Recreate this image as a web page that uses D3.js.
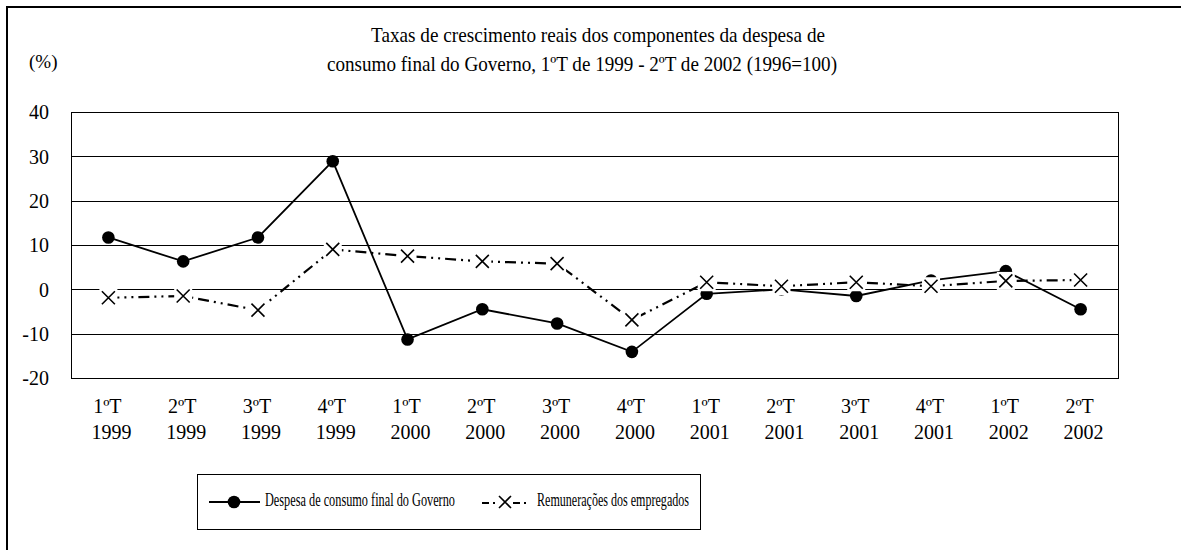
<!DOCTYPE html>
<html>
<head>
<meta charset="utf-8">
<script src="https://cdn.jsdelivr.net/npm/d3@7"></script>
<style>
  body { margin: 0; background: #fff; }
  svg { display: block; }
  text { font-family: "Liberation Serif", "Times New Roman", serif; fill: #000; }
</style>
</head>
<body>
<script>
// data
const quarters = ["1ºT", "2ºT", "3ºT", "4ºT", "1ºT", "2ºT", "3ºT", "4ºT", "1ºT", "2ºT", "3ºT", "4ºT", "1ºT", "2ºT"];
const years = ["1999", "1999", "1999", "1999", "2000", "2000", "2000", "2000", "2001", "2001", "2001", "2001", "2002", "2002"];
const despesa = [11.7, 6.3, 11.7, 28.9, -11.3, -4.5, -7.7, -14.1, -1.0, 0.0, -1.5, 2.0, 4.1, -4.5];
const remuneracoes = [-1.9, -1.5, -4.7, 9.0, 7.5, 6.3, 5.8, -6.9, 1.6, 0.7, 1.6, 0.7, 1.9, 2.1];
const yTicks = [-20, -10, 0, 10, 20, 30, 40];
const titleLines = ["Taxas de crescimento reais dos componentes da despesa de",
                    "consumo final do Governo, 1ºT de 1999 - 2ºT de 2002 (1996=100)"];
const seriesNames = ["Despesa de consumo final do Governo", "Remunerações dos empregados"];

const W = 1181, H = 550;
const margin = {top: 112, right: 63, bottom: 172, left: 71};

const svg = d3.select("body").append("svg")
    .attr("width", W)
    .attr("height", H);

// outer frame (only left and top edges are inside the picture)
svg.append("path")
    .attr("d", `M7,${H} L7,7 L${W},7`)
    .attr("fill", "none")
    .attr("stroke", "#000")
    .attr("stroke-width", 2);

// title
svg.append("text")
    .attr("x", 371).attr("y", 42)
    .attr("font-size", 21)
    .attr("textLength", 454)
    .attr("lengthAdjust", "spacingAndGlyphs")
    .text(titleLines[0]);
svg.append("text")
    .attr("x", 327).attr("y", 71)
    .attr("font-size", 21)
    .attr("textLength", 510)
    .attr("lengthAdjust", "spacingAndGlyphs")
    .text(titleLines[1]);

svg.append("text")
    .attr("x", 29).attr("y", 68)
    .attr("font-size", 19)
    .text("(%)");

let x = d3.scaleBand(d3.range(quarters.length), [margin.left, W - margin.right]);
let y = d3.scaleLinear([-20, 40], [H - margin.bottom, margin.top]);

// grid lines
svg.append("g")
    .attr("stroke", "#000")
    .attr("stroke-width", 1)
    .selectAll("line")
    .data(yTicks)
    .join("line")
      .attr("x1", margin.left)
      .attr("x2", W - margin.right)
      .attr("y1", d => Math.round(y(d)) + 0.5)
      .attr("y2", d => Math.round(y(d)) + 0.5);

svg.append("rect")
    .attr("x", margin.left + 0.5)
    .attr("y", Math.round(y(40)) + 0.5)
    .attr("width", W - margin.right - margin.left)
    .attr("height", Math.round(y(-20)) - Math.round(y(40)))
    .attr("fill", "none")
    .attr("stroke", "#000");

// y axis
let yAxis = svg.append("g")
    .attr("transform", `translate(${margin.left - 20},0)`)
    .call(d3.axisLeft(y).tickValues(yTicks).tickSize(0).tickPadding(2).tickFormat(d => String(d)));
yAxis.attr("font-family", null).attr("font-size", null);
yAxis.select(".domain").remove();
yAxis.selectAll("text")
    .attr("font-size", 20)
    .attr("dy", "0.34em");

// x labels, two lines
let xLab = svg.append("g")
    .selectAll("text")
    .data(quarters)
    .join("text")
      .attr("text-anchor", "middle")
      .attr("font-size", 20);
xLab.append("tspan")
    .attr("x", (d, i) => x(i) + x.bandwidth() / 2 - 1)
    .attr("y", 413)
    .text(d => d);
xLab.append("tspan")
    .attr("x", (d, i) => x(i) + x.bandwidth() / 2 + 3)
    .attr("y", 439)
    .text((d, i) => years[i]);

let cx = i => x(i) + x.bandwidth() / 2;

// series 1: solid line with dots
svg.append("path")
    .datum(despesa)
    .attr("fill", "none")
    .attr("stroke", "#000")
    .attr("stroke-width", 1.8)
    .attr("d", d3.line((d, i) => cx(i), d => y(d)));
svg.append("g")
    .selectAll("circle")
    .data(despesa)
    .join("circle")
      .attr("cx", (d, i) => cx(i))
      .attr("cy", d => y(d))
      .attr("r", 6.3)
      .attr("fill", "#000");

// series 2: dash-dot line with x markers on white squares
const dashPattern = "11,5,2,5,2,5";
svg.append("path")
    .datum(remuneracoes)
    .attr("fill", "none")
    .attr("stroke", "#000")
    .attr("stroke-width", 2.2)
    .attr("stroke-dasharray", dashPattern)
    .attr("d", d3.line((d, i) => cx(i), d => y(d)));

function xMark(g, s) {
    g.append("rect")
        .attr("x", -9).attr("y", -9)
        .attr("width", 18).attr("height", 18)
        .attr("fill", "#fff");
    g.append("path")
        .attr("d", `M${-s},${-s}L${s},${s}M${-s},${s}L${s},${-s}`)
        .attr("stroke", "#000")
        .attr("stroke-width", 1.6);
}

svg.append("g")
    .selectAll("g")
    .data(remuneracoes)
    .join("g")
      .attr("transform", (d, i) => `translate(${cx(i)},${y(d)})`)
      .each(function() { xMark(d3.select(this), 6.5); });

// legend
let legend = svg.append("g");
legend.append("rect")
    .attr("x", 197.5).attr("y", 474.5)
    .attr("width", 503).attr("height", 55)
    .attr("fill", "#fff")
    .attr("stroke", "#000");
legend.append("line")
    .attr("x1", 209).attr("x2", 260)
    .attr("y1", 502).attr("y2", 502)
    .attr("stroke", "#000").attr("stroke-width", 1.8);
legend.append("circle")
    .attr("cx", 234).attr("cy", 502).attr("r", 6.3)
    .attr("fill", "#000");
legend.append("text")
    .attr("x", 265).attr("y", 506)
    .attr("font-size", 18)
    .attr("textLength", 190)
    .attr("lengthAdjust", "spacingAndGlyphs")
    .text(seriesNames[0]);
legend.append("line")
    .attr("x1", 482).attr("x2", 530)
    .attr("y1", 503).attr("y2", 503)
    .attr("stroke", "#000").attr("stroke-width", 2.2)
    .attr("stroke-dasharray", "7,4,2,18,7,4,2,4");
let lm = legend.append("g").attr("transform", "translate(505,502)");
lm.append("path")
    .attr("d", "M-6,-6L6,6M-6,6L6,-6")
    .attr("stroke", "#000")
    .attr("stroke-width", 1.6);
legend.append("text")
    .attr("x", 537).attr("y", 506)
    .attr("font-size", 18)
    .attr("textLength", 152)
    .attr("lengthAdjust", "spacingAndGlyphs")
    .text(seriesNames[1]);
</script>
</body>
</html>
